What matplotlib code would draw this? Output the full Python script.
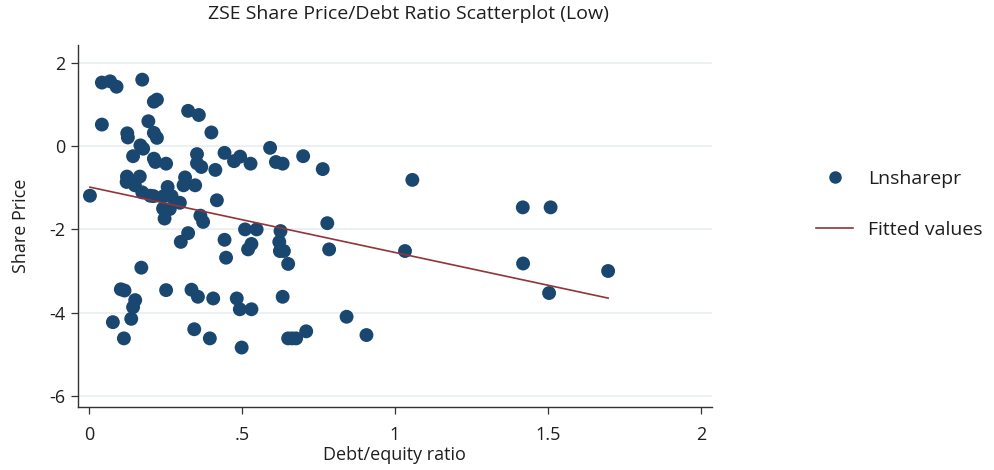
import numpy as np
import matplotlib
matplotlib.use("Agg")
import matplotlib.pyplot as plt
from matplotlib.lines import Line2D

# Debt/equity ratio vs log share price
debt_ratio = [
    0.042, 0.069, 0.090, 0.174, 0.212, 0.222, 0.324, 0.359, 0.042, 0.194,
    0.125, 0.127, 0.212, 0.222, 0.400, 0.168, 0.177, 0.144, 0.212, 0.217,
    0.252, 0.353, 0.353, 0.367, 0.443, 0.413, 0.474, 0.494, 0.528, 0.592,
    0.611, 0.633, 0.700, 0.764, 1.057,
    0.124, 0.123, 0.166, 0.150, 0.314, 0.309, 0.347, 0.003, 0.174, 0.200,
    0.211, 0.257, 0.244, 0.270, 0.297, 0.242, 0.264, 0.247, 0.418, 0.364,
    0.373, 0.779, 0.785, 1.418, 1.509,
    0.324, 0.300, 0.443, 0.510, 0.548, 0.531, 0.520, 0.448, 0.626, 0.622,
    0.624, 0.637, 0.651, 1.033, 1.419, 1.697, 1.504, 0.171,
    0.104, 0.116, 0.151, 0.144, 0.138, 0.078, 0.114, 0.252, 0.335, 0.356,
    0.406, 0.483, 0.493, 0.531, 0.344, 0.395, 0.499, 0.633, 0.651, 0.664,
    0.677, 0.710, 0.842, 0.907,
]
lnsharepr = [
    1.53, 1.56, 1.43, 1.60, 1.07, 1.12, 0.85, 0.75, 0.52, 0.60,
    0.31, 0.21, 0.32, 0.20, 0.33, 0.02, -0.06, -0.24, -0.30, -0.38,
    -0.42, -0.19, -0.41, -0.50, -0.16, -0.57, -0.36, -0.25, -0.42, -0.04,
    -0.38, -0.42, -0.24, -0.55, -0.81,
    -0.73, -0.86, -0.73, -0.94, -0.75, -0.94, -0.94, -1.19, -1.11, -1.19,
    -1.20, -0.98, -1.20, -1.20, -1.36, -1.50, -1.51, -1.74, -1.30, -1.67,
    -1.82, -1.85, -2.48, -1.47, -1.47,
    -2.09, -2.30, -2.25, -2.00, -2.00, -2.35, -2.48, -2.68, -2.04, -2.30,
    -2.52, -2.52, -2.83, -2.52, -2.82, -3.00, -3.53, -2.92,
    -3.44, -3.47, -3.70, -3.87, -4.15, -4.23, -4.62, -3.46, -3.45, -3.62,
    -3.66, -3.66, -3.92, -3.92, -4.40, -4.62, -4.84, -3.62, -4.62, -4.62,
    -4.62, -4.45, -4.10, -4.54,
]

x_ticks = [0, 0.5, 1, 1.5, 2]
x_tick_labels = ["0", ".5", "1", "1.5", "2"]
y_ticks = [-6, -4, -2, 0, 2]

navy = "#1a476f"
maroon = "#90353b"
text_col = "#1e1e1e"

plt.rcParams["font.family"] = ["Open Sans", "DejaVu Sans"]
plt.rcParams["axes.unicode_minus"] = False

x = np.array(debt_ratio)
y = np.array(lnsharepr)
slope, intercept = np.polyfit(x, y, 1)
xfit = np.array([x.min(), x.max()])
yfit = intercept + slope * xfit

fig = plt.figure(figsize=(9.95, 4.7), dpi=100)
ax = fig.add_axes([0.0784, 0.134, 0.637, 0.770])

ax.scatter(x, y, s=100, color=navy, edgecolors="none", zorder=3)
ax.plot(xfit, yfit, color=maroon, lw=1.2, zorder=4)

ax.set_xlim(-0.036, 2.036)
ax.set_ylim(-6.27, 2.43)
ax.set_xticks(x_ticks)
ax.set_xticklabels(x_tick_labels)
ax.set_yticks(y_ticks)
ax.yaxis.grid(True, color="#e9eff1", lw=1.3, zorder=0)
ax.set_axisbelow(True)

for side in ["top", "right"]:
    ax.spines[side].set_visible(False)
for side in ["left", "bottom"]:
    ax.spines[side].set_color("#333333")
    ax.spines[side].set_linewidth(1.0)

ax.tick_params(axis="both", direction="out", length=5, width=0.9,
               color="#333333", labelsize=13, labelcolor=text_col, pad=4)
ax.tick_params(axis="x", pad=9)

ax.set_xlabel("Debt/equity ratio", fontsize=13, color=text_col, labelpad=1)
ax.set_ylabel("Share Price", fontsize=13, color=text_col, labelpad=14)
fig.suptitle("ZSE Share Price/Debt Ratio Scatterplot (Low)", x=0.41, y=0.99,
             fontsize=14, color=text_col)

handles = [
    Line2D([0], [0], marker="o", ls="none", color=navy, markersize=8),
    Line2D([0], [0], color=maroon, lw=1.2),
]
fig.legend(handles, ["Lnsharepr", "Fitted values"], loc="center left",
           bbox_to_anchor=(0.803, 0.565), frameon=False, fontsize=14,
           labelspacing=1.7, handlelength=1.9, handletextpad=0.75,
           labelcolor=text_col)

fig.savefig("out.png", dpi=100)
